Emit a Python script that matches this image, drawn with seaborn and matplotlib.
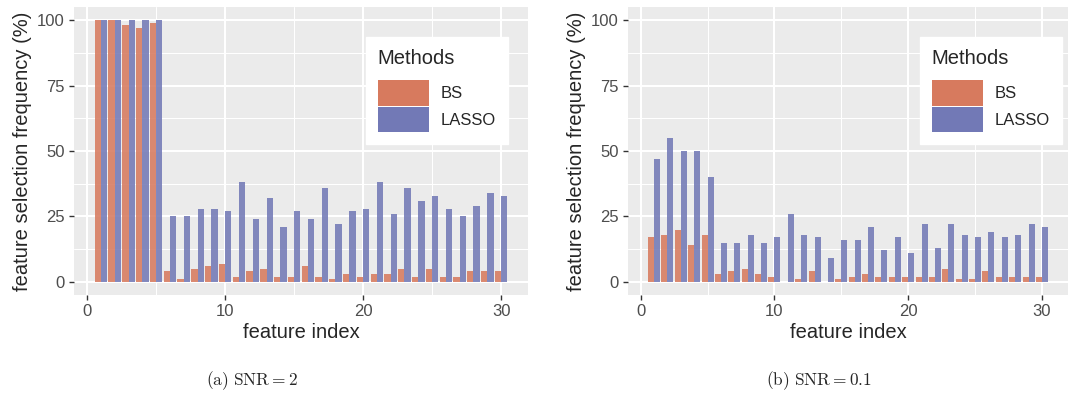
import pandas as pd
import matplotlib.pyplot as plt
import seaborn as sns
from matplotlib.ticker import MultipleLocator

# feature selection frequencies
features = list(range(1, 31))
methods = ["BS", "LASSO"]
bs_snr2 = [100, 100, 98, 97, 99, 4, 1, 5, 6, 7, 2, 4, 5, 2, 2,
           6, 2, 1, 3, 2, 3, 3, 5, 2, 5, 2, 2, 4, 4, 4]
lasso_snr2 = [100, 100, 100, 100, 100, 25, 25, 28, 28, 27, 38, 24, 32, 21, 27,
              24, 36, 22, 27, 28, 38, 26, 36, 31, 33, 28, 25, 29, 34, 33]
bs_snr01 = [17, 18, 20, 14, 18, 3, 4, 5, 3, 2, 0, 1, 4, 0, 1,
            2, 3, 2, 2, 2, 2, 2, 5, 1, 1, 4, 2, 2, 2, 2]
lasso_snr01 = [47, 55, 50, 50, 40, 15, 15, 18, 15, 17, 26, 18, 17, 9, 16,
               16, 21, 12, 17, 11, 22, 13, 22, 18, 17, 19, 17, 18, 22, 21]
captions = [r"$\mathrm{(a)\ SNR} = 2$", r"$\mathrm{(b)\ SNR} = 0.1$"]


def long_df(bs, lasso):
    return pd.DataFrame({
        "feature": features * 2,
        "freq": bs + lasso,
        "Methods": ["BS"] * len(bs) + ["LASSO"] * len(lasso),
    })


sns.set_theme(style="darkgrid")
plt.rcParams.update({
    "font.family": ["Liberation Sans", "DejaVu Sans"],
    "mathtext.fontset": "cm",
    "axes.facecolor": "#EBEBEB",
    "grid.color": "white",
})

palette = {"BS": "#D77A5E", "LASSO": "#7279B6"}

fig = plt.figure(figsize=(10.7, 3.94), dpi=100)
ax1 = fig.add_axes([74 / 1070, 1 - 295 / 394, 454 / 1070, 288 / 394])
ax2 = fig.add_axes([628 / 1070, 1 - 295 / 394, 440 / 1070, 288 / 394])

panels = [(ax1, long_df(bs_snr2, lasso_snr2), 0.956),
          (ax2, long_df(bs_snr01, lasso_snr01), 0.986)]

for ax, df, leg_x in panels:
    sns.barplot(data=df, x="feature", y="freq", hue="Methods", hue_order=methods,
                palette=palette, native_scale=True, width=0.9, saturation=1,
                linewidth=0, alpha=0.88, errorbar=None, ax=ax, zorder=3)
    ax.set_xlim(-0.95, 31.95)
    ax.set_ylim(-5, 105)
    ax.xaxis.set_major_locator(MultipleLocator(10))
    ax.xaxis.set_minor_locator(MultipleLocator(5))
    ax.yaxis.set_major_locator(MultipleLocator(25))
    ax.yaxis.set_minor_locator(MultipleLocator(12.5))
    ax.grid(which="major", color="white", linewidth=1.5)
    ax.grid(which="minor", color="white", linewidth=0.75)
    ax.set_axisbelow(True)
    for s in ax.spines.values():
        s.set_visible(False)
    ax.tick_params(which="major", length=3.5, width=1, color="#333333",
                   labelsize=12, labelcolor="#4D4D4D", pad=3,
                   bottom=True, left=True)
    ax.tick_params(which="minor", length=0)
    ax.set_xlabel("feature index", fontsize=14.5, labelpad=3)
    ax.set_ylabel("feature selection frequency (%)", fontsize=14.5, labelpad=4)

    handles, labels = ax.get_legend_handles_labels()
    leg = ax.legend(handles, labels, title="Methods", loc="upper right",
                    bbox_to_anchor=(leg_x, 0.896), fontsize=12,
                    title_fontsize=14.5, frameon=True, fancybox=False,
                    facecolor="white", edgecolor="white", framealpha=1,
                    handlelength=3.1, handleheight=2.0, labelspacing=0.05,
                    handletextpad=0.7, borderpad=0.7, borderaxespad=0)
    leg._legend_box.align = "left"
    leg._legend_box.sep = 9
    for h in leg.legend_handles:
        h.set_alpha(1)

fig.text(252 / 1070, 1 - 381 / 394, captions[0], ha="center", va="center",
         fontsize=12.5)
fig.text(819 / 1070, 1 - 381 / 394, captions[1], ha="center", va="center",
         fontsize=12.5)

fig.savefig("out.png", dpi=100)
